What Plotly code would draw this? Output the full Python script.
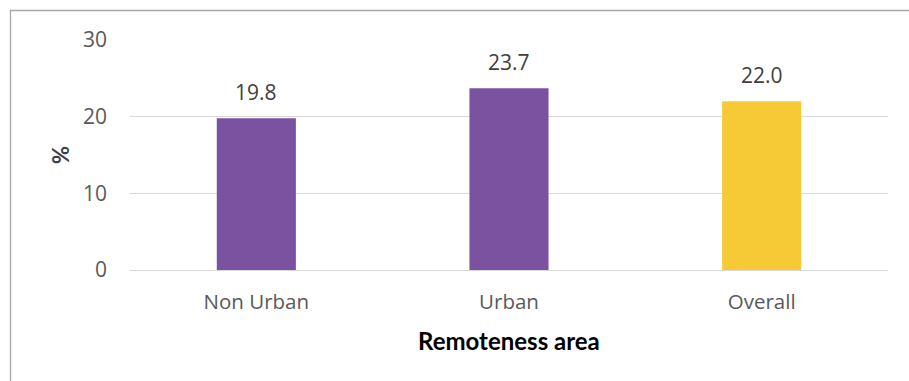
import plotly.graph_objects as go

# Share of people (%) by remoteness area
categories = ["Non Urban", "Urban", "Overall"]
values = [19.8, 23.7, 22.0]
bar_colors = ["#7B52A0", "#7B52A0", "#F6CA37"]
y_ticks = [0, 10, 20, 30]

W, H = 909, 381
L, R, T, B = 130, 21, 40, 111
plot_w = W - L - R
plot_h = H - T - B

fig = go.Figure()
fig.add_trace(go.Bar(
    x=categories,
    y=values,
    marker=dict(color=bar_colors, line=dict(width=0)),
    hoverinfo="x+y",
))

# value labels above each bar
for c, v in zip(categories, values):
    fig.add_annotation(
        x=c, y=v, text=f"{v:.1f}", showarrow=False,
        yanchor="bottom", yshift=10,
        font=dict(family="Open Sans", size=21, color="#404040"),
    )

# axis titles
fig.add_annotation(
    x=(60 - L) / plot_w, y=(H - B - 155) / plot_h, xref="paper", yref="paper",
    xanchor="center", yanchor="middle",
    text="<b>%</b>", showarrow=False, textangle=-90,
    font=dict(family="Lato", size=22, color="#404040"),
)
fig.add_annotation(
    x=0.5, y=(H - B - 340) / plot_h, xref="paper", yref="paper",
    xanchor="center", yanchor="middle",
    text="<b>Remoteness area</b>", showarrow=False,
    font=dict(family="Lato", size=24, color="#000000"),
)

# chart frame
fig.add_shape(
    type="rect", xref="paper", yref="paper",
    x0=(10.5 - L) / plot_w, x1=(W + 5 - L) / plot_w,
    y0=(H - B - (H + 5)) / plot_h, y1=(H - B - 10.5) / plot_h,
    line=dict(color="#A6A6A6", width=1.3), fillcolor="rgba(0,0,0,0)",
    layer="below",
)

fig.update_layout(
    width=W, height=H,
    margin=dict(l=L, r=R, t=T, b=B),
    paper_bgcolor="white", plot_bgcolor="white",
    bargap=0.687,
    showlegend=False,
    font=dict(family="Open Sans", color="#595959"),
    xaxis=dict(
        showgrid=False, showline=False, ticks="",
        tickfont=dict(family="Open Sans", size=20.5, color="#595959"),
        ticklabelstandoff=17,
    ),
    yaxis=dict(
        range=[0, 30], tickvals=y_ticks,
        showgrid=True, gridcolor="#D9D9D9", gridwidth=1.3,
        zeroline=True, zerolinecolor="#D9D9D9", zerolinewidth=1.3,
        showline=False, ticks="",
        tickfont=dict(family="Open Sans", size=21, color="#595959"),
        ticklabelstandoff=22,
    ),
)

fig.write_html("out.html")
